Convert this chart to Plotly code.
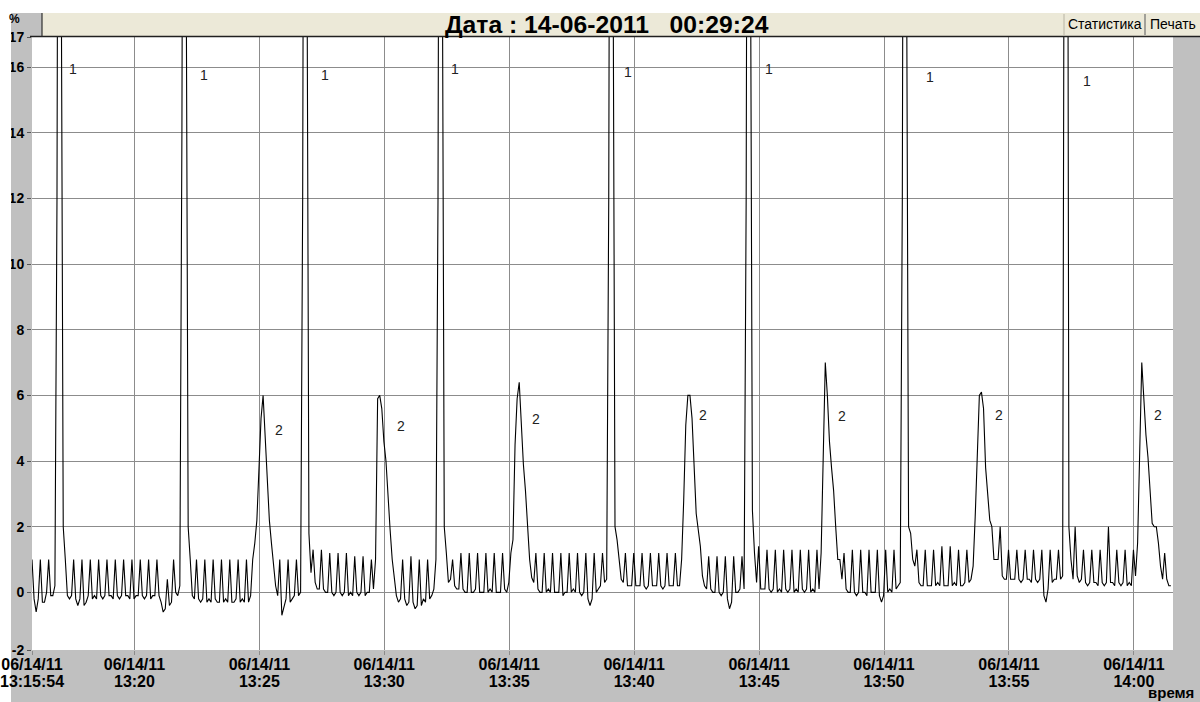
import plotly.graph_objects as go
import pandas as pd

# ---------------- data ----------------
start_time = "2011-06-14 13:15:54"
end_time = "2011-06-14 14:01:34"
sample_step = "5s"

seg_a = [1.0, -0.2, -0.6, -0.2, 1.0, -0.3, -0.3, 0.0, 1.0, -0.1, -0.1, 0.2,
         12, 40, 20, 2.0, 1.0, -0.1, -0.2, -0.1]
seg_b = [1.0, -0.2, -0.4, -0.2, 1.0, -0.4, -0.3, -0.1, 1.0, -0.2, -0.1, -0.2,
         1.0, -0.1, -0.2, -0.1, 1.0, -0.1, -0.1, -0.2, 1.0, -0.1, -0.2, -0.1,
         1.0, -0.1, -0.1, -0.2, 1.0, -0.2, -0.1, -0.1, 1.0, -0.1, -0.2, -0.1,
         1.0, -0.2, -0.1, -0.1, 1.0, -0.1, -0.3, -0.6, -0.5, 0.4, -0.4, -0.3,
         1.0, 0.0, -0.1, 0.2]
seg_c = [14, 40, 20, 2.0, 1.0, -0.1, -0.2,
         1.0, -0.2, -0.3, -0.2, 1.0, -0.3, -0.2, -0.3, 1.0, -0.2, -0.3, -0.3,
         1.0, -0.3, -0.2, -0.3, 1.0, -0.3, -0.3, -0.2, 1.0, -0.3, -0.2, -0.3,
         1.0, -0.3, -0.1]
seg_d = [1.0, 1.5, 2.2, 4.0, 5.3, 6.0, 4.8, 3.4, 2.2, 1.5, 0.9, 0.2, -0.1,
         1.0, -0.7, -0.4, -0.2, 1.0, -0.3, -0.2, -0.1, 1.0, -0.1, 0.0]
seg_e = [12, 40, 20, 1.8, 0.6, 1.3, 0.3, 0.1, 0.1, 1.3, 0.1, 0.0, 0.0,
         1.2, 0.0, -0.1, 0.0, 1.2, 0.0, -0.1, 0.0, 1.2, -0.1, 0.0, -0.1,
         1.1, 0.0, -0.1, 0.0, 1.1, -0.1, 0.0, 0.0, 1.0, 0.1]
seg_f = [1.0, 5.9, 6.0, 5.6, 4.6, 4.0, 2.8, 1.9, 1.0, 0.4,
         -0.1, -0.3, -0.2, 1.0, -0.2, -0.4, -0.3, 1.1, -0.3, -0.5, -0.4,
         1.0, -0.4, -0.2, -0.3, 1.0, -0.2, -0.1, 0.1, 1.0]
seg_g = [12, 40, 20, 2.0, 1.2, 0.3, 0.4, 1.0, 0.2, 0.1, 0.1,
         1.2, 0.1, 0.0, 0.0, 1.2, 0.0, 0.0, 0.1, 1.2, 0.0, 0.0, 0.0,
         1.2, 0.0, 0.1, 0.0, 1.2, 0.0, 0.0, 0.0, 1.2, 0.1, 0.0, 0.3]
seg_h = [1.2, 1.6, 4.5, 5.9, 6.4, 5.1, 3.9, 3.1, 2.1, 1.0, 0.45, 0.3,
         1.2, 0.1, 0.0, 0.0, 1.2, 0.0, 0.1, 0.0, 1.2, 0.0, 0.0, 0.0,
         1.2, -0.1, 0.0, 0.0, 1.2, 0.0, 0.1, 0.0, 1.2, 0.0, -0.1, 0.0,
         1.2, -0.2, -0.4, -0.2, 1.2, 0.0, 0.1, 0.2, 1.2, 0.3, 0.4]
seg_i = [12, 40, 20, 2.0, 1.6, 1.0, 0.4, 0.3,
         1.2, 0.2, 0.2, 0.2, 1.2, 0.2, 0.2, 0.2, 1.2, 0.2, 0.1, 0.2,
         1.2, 0.2, 0.2, 0.2, 1.2, 0.2, 0.1, 0.2, 1.2, 0.2, 0.2, 0.2,
         1.2, 0.2, 0.2]
seg_j = [1.0, 2.8, 5.1, 6.0, 6.0, 5.3, 3.6, 2.4, 1.9, 1.4, 0.5, 0.2, 0.1,
         1.1, 0.1, 0.0, 0.0, 1.1, 0.0, -0.1, 0.0, 1.1, -0.2, -0.5, -0.3,
         1.1, 0.0, 0.0, 0.1, 1.1, 0.1]
seg_k = [12, 40, 20, 2.5, 1.2, 0.3,
         1.4, 0.1, 0.1, 0.1, 1.3, 0.1, 0.0, 0.1, 1.3, 0.0, 0.1, 0.0,
         1.3, 0.1, 0.0, 0.1, 1.3, 0.0, 0.1, 0.0, 1.3, 0.1, 0.0, 0.1,
         1.3, 0.0, 0.1, 0.0, 1.3, 0.1, 1.2]
seg_l = [3.8, 7.0, 6.0, 4.6, 3.8, 3.1, 2.0, 1.0, 1.0, 0.4,
         1.2, 0.1, 0.0, 0.0, 1.3, 0.0, -0.1, 0.0, 1.3, 0.0, 0.0, -0.1,
         1.3, 0.0, 0.0, 0.0, 1.3, -0.1, -0.3, -0.1, 1.3, 0.0, 0.1, 0.0,
         1.3, 0.1, 0.2, 0.3]
seg_m = [12, 40, 20, 2.0, 1.8, 1.0, 0.8,
         1.3, 0.3, 0.2, 0.2, 1.3, 0.2, 0.2, 0.2, 1.3, 0.2, 0.3, 0.2,
         1.4, 0.2, 0.2, 0.2, 1.4, 0.2, 0.3, 0.2, 1.3, 0.2, 0.2, 0.3,
         1.3, 0.3, 0.4]
seg_n = [0.8, 2.3, 4.5, 6.0, 6.1, 5.6, 3.8, 2.9, 2.2, 2.0, 1.0, 1.0, 1.0, 2.0, 0.5, 0.4,
         0.4, 1.3, 0.4, 0.4, 0.4, 1.3, 0.4, 0.3, 0.4, 1.3, 0.4, 0.4, 0.3,
         1.3, 0.4, 0.3, 0.4, 1.3, -0.1, -0.3, 0.1, 1.3, 0.3, 0.4, 0.4,
         1.3, 0.4, 0.5]
seg_o = [30, 40, 2.0, 1.0, 0.4, 2.0, 0.5, 0.3, 0.4,
         1.3, 0.3, 0.2, 0.3, 1.3, 0.3, 0.3, 0.2, 1.3, 0.3, 0.2, 0.3,
         2.0, 0.3, 0.3, 0.2, 1.3, 0.3, 0.2, 0.3, 1.3, 0.2, 0.3, 0.2,
         1.3, 0.5]
seg_p = [1.5, 4.0, 7.0, 5.9, 4.8, 4.1, 3.2, 2.1, 2.0, 2.0, 1.5, 0.8, 0.4,
         1.2, 0.4, 0.2, 0.2]

values = (seg_a + seg_b + seg_c + seg_d + seg_e + seg_f + seg_g + seg_h +
          seg_i + seg_j + seg_k + seg_l + seg_m + seg_n + seg_o + seg_p)
times = pd.date_range(start_time, periods=len(values), freq=sample_step)

tick_times = ["2011-06-14 13:15:54", "2011-06-14 13:20:00", "2011-06-14 13:25:00",
              "2011-06-14 13:30:00", "2011-06-14 13:35:00", "2011-06-14 13:40:00",
              "2011-06-14 13:45:00", "2011-06-14 13:50:00", "2011-06-14 13:55:00",
              "2011-06-14 14:00:00"]
tick_dates = ["06/14/11"] * 10
tick_clock = ["13:15:54", "13:20", "13:25", "13:30", "13:35", "13:40",
              "13:45", "13:50", "13:55", "14:00"]

y_ticks = [0, 2, 4, 6, 8, 10, 12, 14, 16]
y_tick_text = ["0", "2", "4", "6", "8", "10", "12", "14", "16"]
y_range = [-1.757, 16.92]
y_end_text = ["-2", "17"]

label1_times = ["2011-06-14 13:17:32", "2011-06-14 13:22:47", "2011-06-14 13:27:38",
                "2011-06-14 13:32:50", "2011-06-14 13:39:45", "2011-06-14 13:45:24",
                "2011-06-14 13:51:51", "2011-06-14 13:58:08"]
label1_values = [15.93, 15.75, 15.75, 15.96, 15.84, 15.93, 15.69, 15.57]
label2_times = ["2011-06-14 13:25:48", "2011-06-14 13:30:39", "2011-06-14 13:36:04",
                "2011-06-14 13:42:45", "2011-06-14 13:48:18", "2011-06-14 13:54:37",
                "2011-06-14 14:00:59"]
label2_values = [4.96, 5.06, 5.27, 5.40, 5.37, 5.40, 5.40]

title_text = "Дата : 14-06-2011\u00a0\u00a0 00:29:24"

# ---------------- figure ----------------
W, H = 1200, 702
ML, MR, MT, MB = 32, 27, 37, 52
PW, PH = W - ML - MR, H - MT - MB
GREY = "#c0c0c0"
BAR = "#ece9d8"
FONT = "Liberation Sans"


def px(xp):
    return (xp - ML) / PW


def py(yp):
    return (H - MB - yp) / PH


fig = go.Figure()
fig.add_trace(go.Scatter(x=times, y=values, mode="lines",
                         line=dict(color="black", width=1.1),
                         hoverinfo="skip", showlegend=False))
# empty traces so that the two helper axes (second label row, end labels) exist
fig.add_trace(go.Scatter(x=[start_time, end_time], y=[None, None], xaxis="x2", yaxis="y",
                         mode="lines", hoverinfo="skip", showlegend=False))
fig.add_trace(go.Scatter(x=[start_time, end_time], y=[None, None], xaxis="x", yaxis="y2",
                         mode="lines", hoverinfo="skip", showlegend=False))

annotations = []
for t, v in zip(label1_times, label1_values):
    annotations.append(dict(x=t, y=v, xref="x", yref="y", text="1", showarrow=False,
                            font=dict(family=FONT, size=14, color="#222222")))
for t, v in zip(label2_times, label2_values):
    annotations.append(dict(x=t, y=v, xref="x", yref="y", text="2", showarrow=False,
                            font=dict(family=FONT, size=14, color="#222222")))

annotations += [
    dict(x=px(607), y=py(24.5), xref="paper", yref="paper", text=title_text,
         showarrow=False, xanchor="center", yanchor="middle",
         font=dict(family=FONT, size=24.7, color="black", weight="bold")),
    dict(x=px(1105), y=py(24), xref="paper", yref="paper", text="Статистика",
         showarrow=False, xanchor="center", yanchor="middle",
         font=dict(family=FONT, size=14, color="black")),
    dict(x=px(1173), y=py(24), xref="paper", yref="paper", text="Печать",
         showarrow=False, xanchor="center", yanchor="middle",
         font=dict(family=FONT, size=14, color="black")),
    dict(x=px(14), y=py(19), xref="paper", yref="paper", text="%",
         showarrow=False, xanchor="center", yanchor="middle",
         font=dict(family=FONT, size=12, color="black", weight="bold")),
    dict(x=px(1196), y=py(692), xref="paper", yref="paper", text="время",
         showarrow=False, xanchor="right", yanchor="middle",
         font=dict(family=FONT, size=15, color="black", weight="bold")),
]

shapes = [
    # white strips framing the cropped screenshot
    dict(type="rect", xref="paper", yref="paper", x0=px(0), x1=px(W), y0=py(13), y1=py(0),
         fillcolor="white", line=dict(width=0), layer="above"),
    dict(type="rect", xref="paper", yref="paper", x0=px(0), x1=px(11), y0=py(650), y1=py(13),
         fillcolor="white", line=dict(width=0), layer="above"),
    dict(type="rect", xref="paper", yref="paper", x0=px(0), x1=px(11), y0=py(H), y1=py(650),
         fillcolor="white", line=dict(width=0), layer="below"),
    # title bar
    dict(type="rect", xref="paper", yref="paper", x0=px(42), x1=px(W), y0=py(36.5), y1=py(13),
         fillcolor=BAR, line=dict(width=0), layer="above"),
    dict(type="line", xref="paper", yref="paper", x0=px(30), x1=px(W), y0=py(36.5), y1=py(36.5),
         line=dict(color="#202020", width=1.5), layer="above"),
    dict(type="line", xref="paper", yref="paper", x0=px(42), x1=px(42), y0=py(36.5), y1=py(13),
         line=dict(color="#303030", width=1.2), layer="above"),
    dict(type="line", xref="paper", yref="paper", x0=px(1064), x1=px(1064), y0=py(35), y1=py(14),
         line=dict(color="#b8b4a4", width=1), layer="above"),
    dict(type="line", xref="paper", yref="paper", x0=px(1145), x1=px(1145), y0=py(35), y1=py(14),
         line=dict(color="#707070", width=1.2), layer="above"),
]

tick_font = dict(family=FONT, size=14, color="black", weight="bold")
xtick_font = dict(family=FONT, size=16, color="black", weight="bold")

fig.update_layout(
    width=W, height=H,
    margin=dict(l=ML, r=MR, t=MT, b=MB, pad=0, autoexpand=False),
    paper_bgcolor=GREY, plot_bgcolor="white",
    showlegend=False,
    annotations=annotations, shapes=shapes,
    xaxis=dict(type="date", range=[start_time, end_time], tickmode="array",
               tickvals=tick_times, ticktext=tick_dates, tickangle=0,
               showgrid=True, gridcolor="#8c8c8c", gridwidth=1,
               ticks="outside", ticklen=4, tickcolor="#8c8c8c", automargin=False,
               ticklabelstandoff=-4, ticklabeloverflow="allow",
               showline=False, zeroline=False, tickfont=xtick_font, fixedrange=True),
    xaxis2=dict(type="date", range=[start_time, end_time], overlaying="x", side="bottom",
                anchor="y", tickmode="array", tickvals=tick_times, ticktext=tick_clock,
                tickangle=0, showgrid=False, ticks="", showline=False, zeroline=False,
                ticklabelstandoff=20, ticklabeloverflow="allow",
                tickfont=xtick_font, automargin=False, fixedrange=True),
    yaxis=dict(range=y_range, tickmode="array", tickvals=y_ticks, ticktext=y_tick_text,
               showgrid=True, gridcolor="#8c8c8c", gridwidth=1,
               ticks="outside", ticklen=4, tickcolor="#555555", automargin=False,
               showline=False, zeroline=False, tickfont=tick_font, fixedrange=True),
    yaxis2=dict(range=y_range, overlaying="y", side="left", anchor="x", tickmode="array",
                tickvals=y_range, ticktext=y_end_text, showgrid=False,
                ticks="outside", ticklen=4, tickcolor="#555555", automargin=False,
                showline=False, zeroline=False, tickfont=tick_font, fixedrange=True),
)

fig.write_html("out.html", config={"displayModeBar": False},
               post_script="document.body.style.margin='0';")
